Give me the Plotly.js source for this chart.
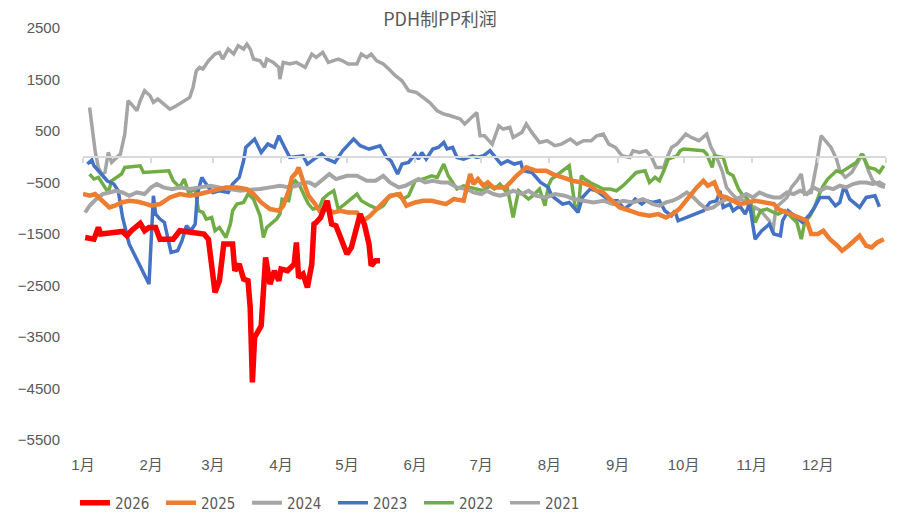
<!DOCTYPE html>
<html>
<head>
<meta charset="utf-8">
<script src="https://cdn.plot.ly/plotly-3.0.1.min.js"></script>
<style>html,body{margin:0;padding:0;background:#fff;}#chart{width:897px;height:520px;}</style>
</head>
<body>
<div id="chart"></div>
<script>
// x = day of year (0 = Jan 1)
const monthStarts = [0,31,59,90,120,151,181,212,243,273,304,334];
const monthLabels = ['1月','2月','3月','4月','5月','6月','7月','8月','9月','10月','11月','12月'];

const days2026 = [1,5,7,8,14,18,20,22,26,28,30,33,35,41,44,55,57,60,62,64,68,69,71,73,75,76,77,78,81,83,85,87,89,90,93,96,97,98,100,102,104,105,106,108,111,113,115,120,122,126,128,130,131,133,135];
const val2026 = [-1567,-1600,-1373,-1500,-1470,-1450,-1534,-1437,-1295,-1437,-1373,-1373,-1600,-1600,-1437,-1500,-1600,-2635,-2408,-1695,-1695,-2214,-2084,-2375,-2408,-2926,-4383,-3509,-3282,-1955,-2472,-2214,-2408,-2181,-2214,-2084,-1664,-2344,-2278,-2538,-2084,-1307,-1276,-1179,-854,-1307,-1340,-1890,-1761,-1113,-1326,-1695,-2117,-2020,-2020];

const days2025 = [0,3,5.5,8,10,12,14.5,17.5,21,25,29,31,35,39.5,44,48.5,53,58,62,65,70,74.5,77.5,81,85,89,91,93.5,95,97,98,100,102.5,105.5,107.5,111,114,117,120.5,124.5,127.5,130.5,133.5,136.5,139.5,144,147,151,154.5,158.5,161.5,165,168.5,173,174.5,176,177.5,179.5,182,184,186.5,192,195,197,201.5,206,210.5,213.5,218,222.5,226.5,230.5,233.5,236.5,239.5,244,248.5,253,257.5,261.5,265,268,271,275,279,282,284,287,289.5,292.5,295.5,298.5,305.5,311.5,314,316,321.5,326,329,331,334,336.5,339.5,343,345,348,351,353,356,358.5,361,364];
const val2025 = [-724,-757,-724,-822,-887,-984,-951,-887,-854,-874,-919,-951,-919,-790,-724,-757,-724,-660,-628,-595,-595,-628,-724,-887,-1016,-1048,-951,-660,-401,-304,-207,-466,-757,-919,-1048,-1016,-1082,-1048,-1082,-1082,-1243,-1146,-1016,-887,-757,-724,-951,-887,-854,-854,-887,-919,-822,-854,-595,-336,-530,-433,-563,-499,-595,-595,-466,-369,-207,-272,-272,-336,-401,-466,-499,-563,-660,-693,-822,-984,-1048,-1113,-1146,-1113,-1179,-1113,-1016,-790,-595,-466,-563,-499,-757,-790,-854,-919,-854,-887,-919,-1016,-1113,-1179,-1243,-1501,-1501,-1437,-1600,-1728,-1826,-1728,-1600,-1534,-1728,-1761,-1664,-1600];

const days2024 = [1,3,6,9,12,15,18,21,24.5,28,31,33.5,36.5,40.5,44,48.5,53,58,62,67,71.5,76,80.5,85,89.5,94,97,100,103,105.5,108.5,112,115,120,124.5,129,133,136.5,139.5,143.5,146.5,149.5,152.5,155.5,159,163,166,170,174.5,177.5,181,183.5,186.5,189.5,192.5,195.5,199.5,202.5,206,210.5,214.5,219,223,227.5,232,236.5,241,245.5,250,254.5,259,262,265,268,271,274.5,277.5,280.5,283.5,286.5,289.5,292.5,295.5,298.5,301.5,304.5,307.5,311,314,317,320,323,326,329,332,335,338,341,344,347,350,353,356,359,362,364.5];
const val2024 = [-1082,-951,-822,-724,-693,-660,-693,-757,-693,-724,-595,-530,-595,-628,-595,-628,-595,-563,-595,-628,-660,-640,-628,-595,-563,-595,-563,-499,-499,-563,-466,-336,-433,-369,-369,-466,-466,-369,-499,-595,-563,-499,-433,-499,-466,-499,-499,-595,-628,-693,-724,-660,-724,-757,-724,-660,-724,-660,-757,-790,-724,-757,-822,-854,-887,-854,-919,-854,-887,-822,-919,-951,-887,-854,-790,-693,-790,-919,-1016,-984,-887,-822,-854,-790,-724,-790,-693,-757,-790,-790,-693,-724,-660,-724,-595,-660,-595,-628,-563,-595,-530,-499,-499,-530,-499,-563];

const days2023 = [2,4,5,7,11,14,16,18,21,30,32,33,35,37,40,43,45,47,49,51,52,54,56,57,59,62,66,68,71,73,74,78,81,84,87,89,92,94,100,102,105,108.5,111,114.5,118,123,126,130,135,138,140,143,145,148,151,152.5,154,156,159,161.5,164,165.5,168,170,173,177,179,182,185,188,190,193,196,199,200,204,208,211.5,213,216,218,221,223,225,227,230.5,233.5,236.5,239.5,243,246,249,251,254,256,259,262,264.5,267.5,269,270.5,282,285,288,289.5,291,294,295.5,298.5,301,303,305.5,308.5,312,314,317,318,320.5,324,327,330.5,332.5,335,339,342,344,346,348.5,353,356,360,362];
const val2023 = [-142,-65,-175,-272,-466,-530,-660,-1179,-1695,-2472,-757,-1113,-1210,-1276,-1858,-1825,-1631,-1340,-1437,-1307,-724,-401,-530,-595,-693,-660,-693,-530,-401,-78,180,343,84,246,181,408,150,-13,19,-142,-45,52,-45,-110,117,343,214,150,214,-13,-78,-336,-142,-110,52,-45,84,-45,150,181,278,150,181,-13,-45,19,-13,19,117,-45,-142,-78,-142,-110,-272,-304,-499,-595,-757,-854,-919,-887,-984,-1082,-790,-628,-660,-757,-854,-854,-1016,-919,-822,-919,-854,-887,-854,-1048,-1146,-1048,-1243,-1048,-887,-854,-660,-984,-919,-1048,-951,-1113,-919,-1600,-1437,-1307,-1501,-1534,-1243,-1048,-1179,-1276,-1113,-984,-790,-790,-951,-887,-563,-822,-984,-790,-757,-971];

const days2022 = [3,5,7,10,11.5,13,15,17.5,19,26,27.5,39,41,44,46,48,51,52.5,54.5,56,58.5,60,62,65,67,68,70,73,75,77.5,80.5,82,83.5,86.5,88,89.5,90.5,93.5,95,96.5,98.5,101,102.5,104.5,107.5,109,111.5,114,116,119,121,124.5,126.5,130.5,134,136.5,139,142.5,145.5,148,151,154.5,158.5,161,164,166,167.5,170,173,176,179,182,185,187,189.5,192,193,195.5,198,200,202.5,204.5,207.5,210,211.5,213,215,217.5,221,223.5,225,226.5,228,230.5,233.5,236.5,239.5,242.5,245.5,248.5,251.5,255.5,257.5,260,262,264,266,268,270,271.5,273,282,283.5,286,287,291,293,295.5,298,299.5,301.5,304,305.5,308,311,314,316,319,321.5,324.5,326.5,328,330.5,332.5,335,336.5,338.5,342.5,344.5,347,349,351.5,354,355.5,357,360,362,364];
const val2022 = [-336,-433,-401,-595,-693,-466,-401,-336,-207,-175,-304,-272,-466,-595,-433,-693,-628,-1048,-1082,-1210,-1179,-1437,-1373,-1567,-1307,-1048,-919,-887,-724,-822,-1146,-1567,-1373,-1276,-1210,-1113,-822,-854,-530,-466,-563,-790,-919,-1016,-984,-822,-724,-660,-1016,-919,-854,-724,-854,-951,-1016,-951,-790,-724,-822,-757,-466,-433,-369,-401,-142,-369,-466,-628,-563,-595,-628,-660,-563,-628,-530,-660,-628,-1179,-660,-724,-822,-757,-628,-951,-563,-433,-369,-272,-175,-919,-1082,-369,-433,-499,-563,-628,-628,-660,-563,-433,-304,-272,-499,-401,-466,-272,-45,-13,19,117,150,117,52,-207,19,-13,-304,-369,-628,-724,-790,-951,-1276,-1048,-1016,-1082,-1113,-1048,-1146,-1276,-1600,-1276,-1146,-984,-693,-563,-433,-272,-304,-239,-175,-110,52,-78,-207,-239,-304,-175];

const days2021 = [3,4,5.5,7,8.5,10,11.5,13,15.5,17,19,20.5,22,24.5,26,28,30.5,32,34,36.5,39.5,42.5,48.5,50,51.5,53,54.5,57,60,62,63.5,66,68.5,70.5,73,74.5,76,77.5,80.5,82.5,83.5,86.5,89,89.5,91,94,97,101,104,106,109,111.5,116,118,120.5,124.5,126.5,129,131,133.5,136.5,139,142,145,148,151.5,154.5,157.5,161,164,167,171.5,173.5,176.5,179,180.5,182.5,186,189,191,194,195.5,199.5,201.5,204,207.5,211,214.5,217.5,221.5,224.5,227.5,231,233.5,236.5,239,242,245,248.5,250,253,256,258.5,260.5,264,265.5,267.5,270,271.5,274,276.5,280,283.5,285.5,288,290.5,292.5,295,297.5,301.5,304,305.5,308,310,312,313.5,315,317.5,320,322,324.5,326.5,328,331,333.5,335.5,338,340,342.5,344,346.5,349.5,352.5,354.5,357,359,362,364.5];
const val2021 = [957,569,117,-207,-336,-304,84,-110,-13,52,440,1088,1023,893,1088,1282,1185,1055,1120,1023,926,990,1152,1346,1670,1735,1703,1864,1994,2026,1897,2091,1994,2156,2091,2188,2091,1897,1864,1735,1897,1832,1735,1509,1832,1800,1832,1735,1994,1929,2026,1832,1897,1864,1800,1800,1994,1929,1994,1864,1800,1703,1573,1476,1282,1249,1152,1055,893,829,796,732,635,764,861,408,408,246,602,538,570,375,473,635,473,278,311,214,246,343,246,311,311,408,440,246,181,19,-13,117,84,117,-13,-207,-207,-13,181,246,311,440,375,311,440,181,-13,-272,-595,-724,-822,-854,-1113,-984,-1048,-1146,-1243,-1470,-984,-887,-790,-595,-466,-336,-724,-693,-142,408,278,181,-45,-272,-401,-304,-78,52,-272,-466,-563,-595];

const seriesNames = ['2021','2022','2023','2024','2025','2026'];
const seriesDays = [days2021, days2022, days2023, days2024, days2025, days2026];
const seriesVals = [val2021, val2022, val2023, val2024, val2025, val2026];
const seriesColors = ['#A5A5A5','#70AD47','#4472C4','#A5A5A5','#ED7D31','#FF0000'];
const seriesWidths = [3.5, 3.5, 3.5, 4, 4.5, 5.5];

const traces = seriesNames.map((n, i) => ({
  type: 'scatter', mode: 'lines', name: n,
  x: seriesDays[i], y: seriesVals[i],
  line: {color: seriesColors[i], width: seriesWidths[i]},
  hoverinfo: 'x+y+name'
}));
// helper trace so the zero-level axis (with month tick marks) is drawn
traces.push({type:'scatter', mode:'lines', x:[0,365], y:[null,null], xaxis:'x2', yaxis:'y', showlegend:false, hoverinfo:'skip'});

const gray = '#595959';
const layout = {
  width: 897, height: 520,
  margin: {l: 83, r: 11, t: 28, b: 80, autoexpand: false},
  paper_bgcolor: '#fff', plot_bgcolor: '#fff',
  title: {text: 'PDH制PP利润', x: 0.4905, xanchor: 'center', y: 0.963, yanchor: 'middle',
          font: {family: 'Noto Sans CJK SC, sans-serif', size: 18, color: gray}},
  xaxis: {range: [0, 365], tickvals: monthStarts, ticktext: monthLabels, ticks: '', automargin: false,
          showgrid: false, zeroline: false, showline: false, ticklabelstandoff: 14,
          tickfont: {family: 'Liberation Sans, Noto Sans CJK SC, sans-serif', size: 15, color: gray}},
  xaxis2: {overlaying: 'x', anchor: 'free', position: 0.6875, range: [0, 365], automargin: false,
           tickvals: monthStarts.concat([365]), showticklabels: false, ticks: 'outside', ticklen: 5,
           tickwidth: 1.5, tickcolor: '#D9D9D9', showline: true, linecolor: '#D9D9D9', linewidth: 1.5,
           showgrid: false, zeroline: false},
  yaxis: {range: [-5500, 2500], tick0: -5500, dtick: 1000, showgrid: false, zeroline: false,
          ticks: '', ticklabelstandoff: 22, automargin: false,
          tickfont: {family: 'Liberation Sans, sans-serif', size: 15, color: gray}},
  legend: {orientation: 'h', x: -0.01, xanchor: 'left', y: -0.153, yanchor: 'middle',
           traceorder: 'reversed', entrywidth: 41, entrywidthmode: 'pixels',
           font: {family: 'Liberation Sans Narrow, DejaVu Sans Condensed, sans-serif', size: 15, color: gray}},
  showlegend: true
};
Plotly.newPlot('chart', traces, layout, {displayModeBar: false, responsive: false});
</script>
</body>
</html>
